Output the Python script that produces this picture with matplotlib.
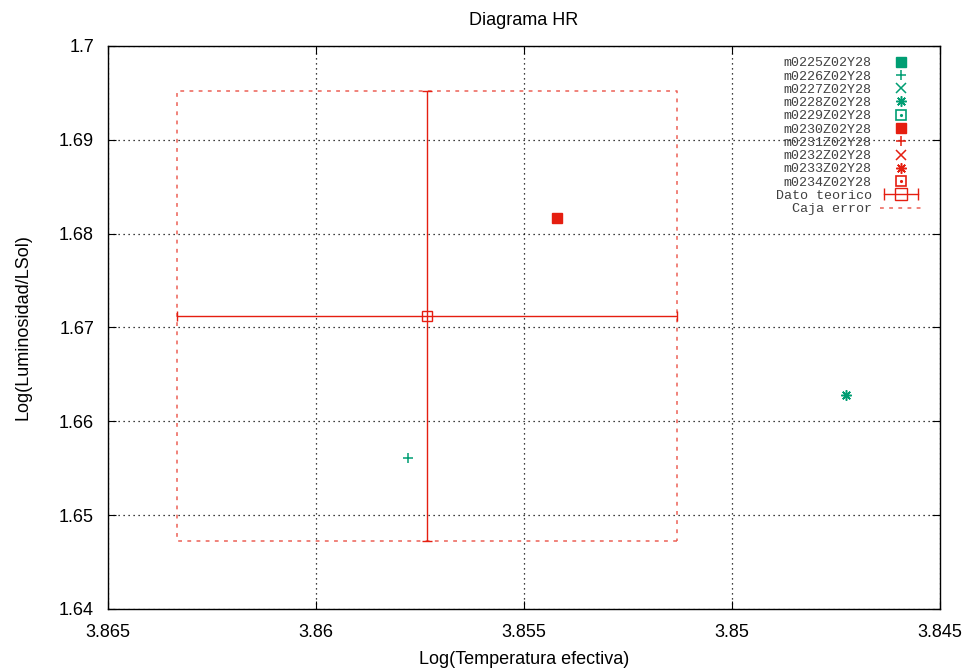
import numpy as np
import matplotlib
matplotlib.use("Agg")
import matplotlib.pyplot as plt
from matplotlib.lines import Line2D
from matplotlib.legend_handler import HandlerTuple, HandlerLine2D

GREEN = "#009e73"
RED = "#e51e10"

# model tracks (only some have points inside the plotted window)
models = ["m0225Z02Y28", "m0226Z02Y28", "m0227Z02Y28", "m0228Z02Y28", "m0229Z02Y28",
          "m0230Z02Y28", "m0231Z02Y28", "m0232Z02Y28", "m0233Z02Y28", "m0234Z02Y28"]
model_teff = [[], [3.85779], [], [3.84726], [], [3.85421], [], [], [], []]
model_lum = [[], [1.65609], [], [1.66281], [], [1.68167], [], [], [], []]

# theoretical datum with errors
dato_teff = 3.85733
dato_lum = 1.67123
err_teff = 0.0060
err_lum = 0.0240

plt.rcParams["font.family"] = ["Liberation Sans", "DejaVu Sans"]
fig = plt.figure(figsize=(9.72, 6.71), dpi=100)
ax = fig.add_axes([108/972, 1-609/671, (940-108)/972, (609-46)/671])

marker_styles = [("s", "full"), ("+", "none"), ("x", "none"), ((8, 2, 0), "none"), ("s", "dot")] * 2
handles = []
for i, (name, xs, ys) in enumerate(zip(models, model_teff, model_lum)):
    col = GREEN if i < 5 else RED
    m, fill = marker_styles[i]
    if fill == "full":
        h = ax.plot(xs, ys, ls="none", marker=m, ms=7, color=col, mec=col)[0]
    elif fill == "dot":
        h1 = ax.plot(xs, ys, ls="none", marker="s", ms=7.5, mfc="none", mec=col, mew=1.2)[0]
        h2 = ax.plot(xs, ys, ls="none", marker=".", ms=2.5, color=col)[0]
        h = (h1, h2)
    else:
        h = ax.plot(xs, ys, ls="none", marker=m, ms=7.5, color=col, mew=1.1)[0]
    handles.append(h)

ax.errorbar([dato_teff], [dato_lum], xerr=[err_teff], yerr=[err_lum], fmt="s", ms=7,
            mfc="none", mec=RED, color=RED, ecolor=RED, elinewidth=1, capsize=3.5, capthick=1)

# legend proxy for the datum: horizontal bar with end caps and an open square
bar_proxy = Line2D([], [], color=RED, lw=1, marker="|", ms=8, mew=1)
sq_proxy = Line2D([], [], ls="none", marker="s", ms=8, mfc="none", mec=RED, mew=1)
handles.append((bar_proxy, sq_proxy))

bx = [dato_teff - err_teff, dato_teff + err_teff, dato_teff + err_teff, dato_teff - err_teff, dato_teff - err_teff]
by = [dato_lum - err_lum, dato_lum - err_lum, dato_lum + err_lum, dato_lum + err_lum, dato_lum - err_lum]
box = ax.plot(bx, by, color=RED, alpha=0.7, lw=1.1, ls=(0, (2.5, 3.5)))[0]
handles.append(box)
labels = models + ["Dato teorico", "Caja error"]

ax.set_xlim(3.865, 3.845)
ax.set_ylim(1.64, 1.70)
ax.set_xticks([3.865, 3.86, 3.855, 3.85, 3.845])
ax.set_xticklabels(["3.865", "3.86", "3.855", "3.85", "3.845"])
ax.set_yticks([1.64, 1.65, 1.66, 1.67, 1.68, 1.69, 1.70])
ax.set_yticklabels(["1.64", "1.65", "1.66", "1.67", "1.68", "1.69", "1.7"])
ax.tick_params(direction="in", top=True, right=True, length=6, width=0.8, labelsize=13)
ax.tick_params(axis="x", pad=11)
ax.tick_params(axis="y", pad=10)
ax.grid(True, color="black", ls=(0, (1, 3)), lw=0.9)
for s in ax.spines.values():
    s.set_linewidth(1.0)

ax.set_title("Diagrama HR", fontsize=13, pad=15)
ax.set_xlabel("Log(Temperatura efectiva)", fontsize=13, labelpad=7)
ax.set_ylabel("Log(Luminosidad/LSol)", fontsize=13, labelpad=20)

leg = ax.legend(handles, labels, loc="upper right", bbox_to_anchor=(0.99, 0.997),
                markerfirst=False, frameon=False,
                prop={"family": "Liberation Mono", "size": 9.6}, labelspacing=0.07,
                handlelength=3.2, handletextpad=0.6, borderaxespad=0.3,
                handler_map={tuple: HandlerTuple(ndivide=1),
                             bar_proxy: HandlerLine2D(numpoints=2)},
                alignment="right")
for t in leg.get_texts():
    t.set_color("#404040")
    t.set_ha("right")

fig.savefig("out.png", dpi=100)
